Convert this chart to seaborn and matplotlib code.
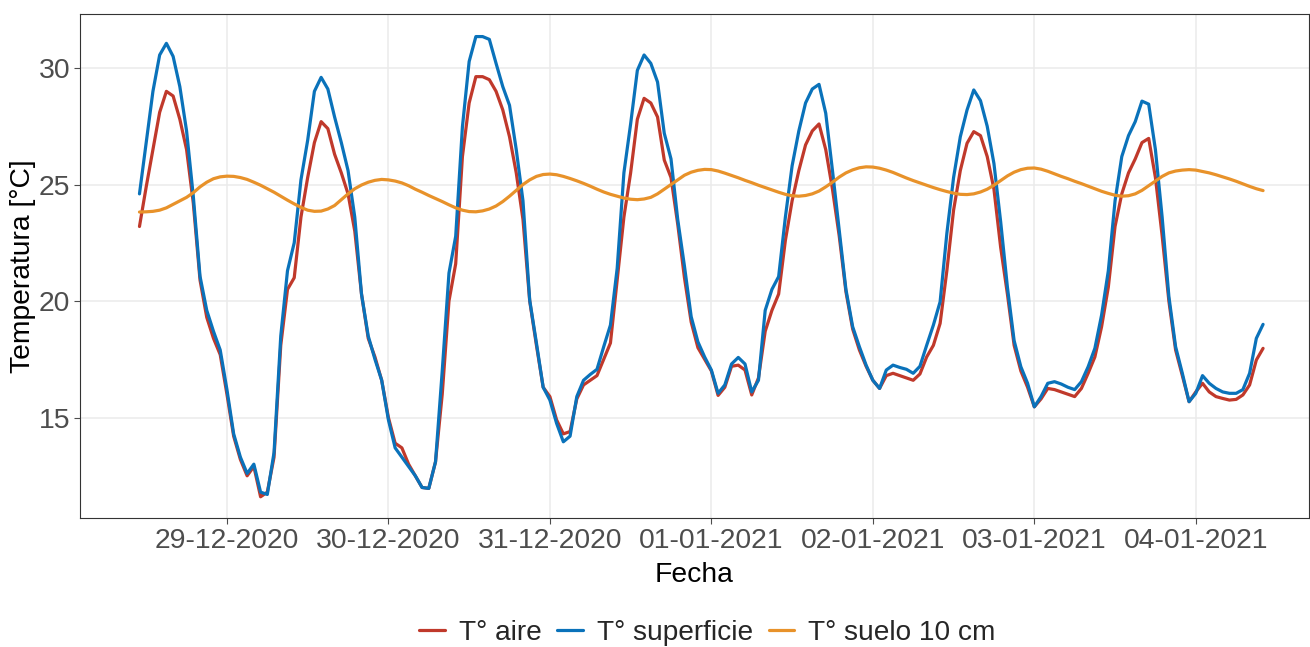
import pandas as pd
import matplotlib
matplotlib.use("Agg")
import matplotlib.pyplot as plt
import matplotlib.dates as mdates
import seaborn as sns

# hourly readings, 28-12-2020 11:00 -> 04-01-2021 10:00
start = "2020-12-28 11:00"

t_aire = [
    23.2, 24.9, 26.5, 28.1, 29.0, 28.8, 27.8, 26.5, 24.2, 20.9,
    19.3, 18.4, 17.7, 16.0, 14.2, 13.2, 12.5, 12.9, 11.6, 11.8,
    13.3, 18.1, 20.5, 21.0, 23.6, 25.3, 26.8, 27.7, 27.4, 26.3,
    25.5, 24.6, 23.0, 20.3, 18.4, 17.6, 16.6, 15.0, 13.9, 13.7,
    13.0, 12.5, 12.0, 11.96, 13.1, 16.0, 20.0, 21.6, 26.2, 28.5,
    29.63, 29.63, 29.5, 29.0, 28.2, 27.05, 25.5, 23.5, 20.0, 18.1,
    16.3, 15.9, 14.9, 14.3, 14.4, 15.8, 16.4, 16.6, 16.8, 17.5,
    18.2, 20.9, 23.6, 25.5, 27.8, 28.7, 28.5, 27.9, 26.05, 25.3,
    23.3, 21.0, 19.1, 18.0, 17.5, 17.0, 15.95, 16.3, 17.2, 17.25,
    17.04, 15.97, 16.7, 18.7, 19.6, 20.3, 22.6, 24.3, 25.6, 26.7,
    27.3, 27.6, 26.5, 24.8, 22.8, 20.4, 18.8, 17.9, 17.2, 16.6,
    16.25, 16.8, 16.9, 16.8, 16.7, 16.6, 16.87, 17.6, 18.1, 19.04,
    21.3, 23.9, 25.6, 26.77, 27.27, 27.1, 26.2, 24.8, 22.3, 20.3,
    18.1, 17.0, 16.3, 15.46, 15.8, 16.25, 16.2, 16.1, 16.0, 15.9,
    16.25, 16.9, 17.6, 18.9, 20.6, 23.2, 24.6, 25.5, 26.1, 26.8,
    26.98, 25.3, 22.8, 20.0, 17.9, 16.8, 15.68, 16.1, 16.47, 16.1,
    15.9, 15.82, 15.75, 15.78, 15.97, 16.4, 17.47, 17.97,
]

t_superficie = [
    24.6, 26.8, 29.0, 30.56, 31.06, 30.5, 29.2, 27.3, 24.5, 21.06,
    19.6, 18.7, 17.9, 16.2, 14.3, 13.3, 12.6, 13.0, 11.8, 11.7,
    13.5, 18.5, 21.3, 22.5, 25.2, 26.9, 29.0, 29.6, 29.1, 27.9,
    26.8, 25.6, 23.6, 20.3, 18.5, 17.5, 16.6, 14.9, 13.7, 13.3,
    12.9, 12.5, 12.0, 11.96, 13.1, 17.0, 21.2, 22.78, 27.48, 30.28,
    31.35, 31.35, 31.23, 30.2, 29.2, 28.4, 26.5, 24.3, 20.04, 18.2,
    16.3, 15.75, 14.75, 13.96, 14.2, 15.9, 16.6, 16.85, 17.07, 18.04,
    18.97, 21.4, 25.5, 27.6, 29.9, 30.56, 30.2, 29.4, 27.2, 26.1,
    23.5, 21.5, 19.33, 18.25, 17.6, 17.04, 16.04, 16.4, 17.3, 17.58,
    17.3, 16.1, 16.6, 19.6, 20.5, 21.05, 23.6, 25.8, 27.3, 28.5,
    29.1, 29.3, 28.06, 25.6, 23.05, 20.5, 18.9, 18.04, 17.25, 16.6,
    16.25, 17.04, 17.25, 17.15, 17.07, 16.9, 17.2, 18.1, 18.97, 19.97,
    22.9, 25.3, 27.05, 28.2, 29.06, 28.6, 27.5, 25.9, 23.4, 20.6,
    18.3, 17.18, 16.47, 15.46, 15.9, 16.47, 16.54, 16.44, 16.3, 16.2,
    16.54, 17.18, 17.97, 19.4, 21.3, 24.3, 26.2, 27.1, 27.7, 28.58,
    28.45, 26.5, 23.6, 20.2, 18.04, 16.9, 15.68, 16.04, 16.8, 16.47,
    16.25, 16.1, 16.04, 16.04, 16.2, 16.9, 18.4, 19.0,
]

t_suelo = [
    23.82, 23.83, 23.85, 23.9, 24.0, 24.15, 24.3, 24.45, 24.65, 24.9,
    25.1, 25.25, 25.33, 25.36, 25.35, 25.3, 25.22, 25.1, 24.97, 24.82,
    24.67, 24.5, 24.33, 24.17, 24.02, 23.9, 23.85, 23.86, 23.95, 24.1,
    24.35, 24.6, 24.82, 24.98, 25.1, 25.18, 25.22, 25.2, 25.15, 25.07,
    24.95, 24.8, 24.67, 24.53, 24.4, 24.27, 24.13, 24.0, 23.9, 23.84,
    23.83, 23.87, 23.95, 24.08, 24.27, 24.5, 24.75, 25.0, 25.2, 25.35,
    25.43, 25.45, 25.42, 25.35, 25.26, 25.16, 25.05, 24.93, 24.8, 24.68,
    24.58, 24.5, 24.42, 24.37, 24.35, 24.38, 24.45, 24.6, 24.8, 25.0,
    25.2, 25.4, 25.53, 25.61, 25.65, 25.64, 25.58, 25.49, 25.39, 25.29,
    25.18, 25.08, 24.97, 24.87, 24.77, 24.67, 24.58, 24.52, 24.5, 24.53,
    24.6, 24.72, 24.9, 25.1, 25.32, 25.5, 25.63, 25.72, 25.76, 25.75,
    25.7, 25.62, 25.52, 25.4, 25.28, 25.17, 25.07, 24.97, 24.87, 24.78,
    24.7, 24.63, 24.58, 24.57, 24.6, 24.68, 24.8, 24.97, 25.17, 25.37,
    25.53, 25.64, 25.7, 25.71, 25.66, 25.57, 25.46, 25.35, 25.25, 25.14,
    25.04, 24.93, 24.82, 24.71, 24.62, 24.54, 24.5, 24.52, 24.6, 24.75,
    24.95, 25.15, 25.35, 25.5, 25.58, 25.62, 25.64, 25.62, 25.56, 25.5,
    25.42, 25.33, 25.24, 25.14, 25.03, 24.92, 24.82, 24.74,
]

series_names = ["T° aire", "T° superficie", "T° suelo 10 cm"]
colors = ["#C0392B", "#0A72BA", "#E8922A"]

fecha = pd.date_range(start=start, periods=len(t_aire), freq="h")
df = pd.DataFrame({"fecha": fecha, series_names[0]: t_aire,
                   series_names[1]: t_superficie, series_names[2]: t_suelo})
df = df.melt(id_vars="fecha", var_name="serie", value_name="temp")

sns.set_theme(style="whitegrid")
plt.rcParams["font.family"] = ["Liberation Sans", "DejaVu Sans"]

fig = plt.figure(figsize=(13.1, 6.47), dpi=100)
ax = fig.add_axes([0.0611, 0.1994, 0.938, 0.779])

sns.lineplot(data=df, x="fecha", y="temp", hue="serie", hue_order=series_names,
             palette=colors, linewidth=2.3, ax=ax)

ax.set_ylim(10.69, 32.32)
ax.set_xlim(pd.Timestamp("2020-12-28 02:10"), pd.Timestamp("2021-01-04 16:48"))
ax.set_yticks([15, 20, 25, 30])
ax.xaxis.set_major_locator(mdates.DayLocator())
ax.xaxis.set_major_formatter(mdates.DateFormatter("%d-%m-%Y"))

ax.grid(True, color="#EBEBEB", linewidth=1.1)
for s in ax.spines.values():
    s.set_color("#333333")
    s.set_linewidth(0.8)
ax.tick_params(axis="both", labelsize=20.4, colors="#4D4D4D", length=4,
               width=0.8, direction="out", bottom=True, left=True, pad=3)

ax.set_xlabel("Fecha", fontsize=20.3, color="black", labelpad=6)
ax.set_ylabel("Temperatura [°C]", fontsize=20.3, color="black", labelpad=2)

handles, labels = ax.get_legend_handles_labels()
ax.get_legend().remove()
fig.legend(handles, labels, loc="center", bbox_to_anchor=(0.54, 0.022), ncol=3,
           frameon=False, fontsize=20.2, handlelength=0.92, handletextpad=0.5,
           columnspacing=0.55)

plt.savefig("out.png", dpi=100)
plt.close()
